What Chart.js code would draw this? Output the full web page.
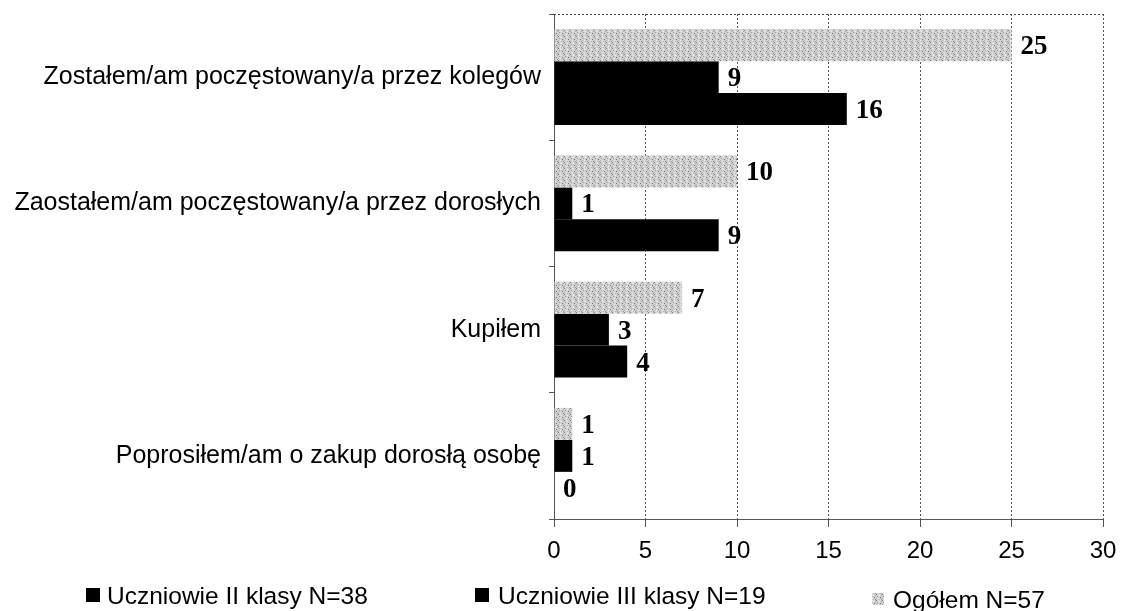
<!DOCTYPE html>
<html><head><meta charset="utf-8">
<script src="https://cdn.jsdelivr.net/npm/chart.js@4.4.1/dist/chart.umd.min.js"></script>
<style>html,body{margin:0;padding:0;background:#fff;}#wrap{width:1121px;height:611px;}</style>
</head><body><div id="wrap"><canvas id="c" width="1121" height="611"></canvas></div>
<script>
const categories = [
  "Zostałem/am poczęstowany/a przez kolegów",
  "Zaostałem/am poczęstowany/a przez dorosłych",
  "Kupiłem",
  "Poprosiłem/am o zakup dorosłą osobę"
];
const seriesNames = ["Ogółem N=57", "Uczniowie III klasy N=19", "Uczniowie II klasy N=38"];
const ogolem = [25, 10, 7, 1];
const klasaIII = [9, 1, 3, 1];
const klasaII = [16, 9, 4, 0];
const xTicks = [0, 5, 10, 15, 20, 25, 30];
const legendOrder = [2, 1, 0];

// speckled light-gray texture
function makePattern() {
  const p = document.createElement('canvas');
  p.width = 6; p.height = 6;
  const g = p.getContext('2d');
  g.fillStyle = '#d2d2d2'; g.fillRect(0, 0, 6, 6);
  const dots = [[0,0,'#7a7a7a'],[3,1,'#f2f2f2'],[1,2,'#9c9c9c'],[4,3,'#6e6e6e'],[2,4,'#ededed'],[5,5,'#949494'],[0,4,'#b2b2b2'],[5,1,'#a8a8a8'],[2,0,'#e8e8e8'],[3,5,'#bcbcbc']];
  dots.forEach(d => { g.fillStyle = d[2]; g.fillRect(d[0], d[1], 1, 1); });
  return g.createPattern(p, 'repeat');
}
const ctx = document.getElementById('c').getContext('2d');
const grayPat = makePattern();
const colors = [grayPat, '#000000', '#000000'];
const values = [ogolem, klasaIII, klasaII];

const frame = {
  id: 'frame',
  beforeDatasetsDraw(chart) {
    const {ctx, chartArea: a} = chart;
    ctx.save();
    ctx.strokeStyle = '#444'; ctx.lineWidth = 1; ctx.setLineDash([2, 2]);
    ctx.beginPath(); ctx.moveTo(a.left, a.top + 0.5); ctx.lineTo(a.right, a.top + 0.5); ctx.stroke();
    ctx.restore();
  }
};
const labelsPlugin = {
  id: 'vals',
  afterDatasetsDraw(chart) {
    const ctx = chart.ctx;
    ctx.save();
    ctx.font = 'bold 27px "Liberation Serif", "Times New Roman", serif';
    ctx.fillStyle = '#000'; ctx.textAlign = 'left'; ctx.textBaseline = 'middle';
    chart.data.datasets.forEach((ds, i) => {
      chart.getDatasetMeta(i).data.forEach((bar, j) => {
        ctx.fillText(String(ds.data[j]), bar.x + 9, bar.y + 2);
      });
    });
    ctx.restore();
  }
};
const legendPlugin = {
  id: 'customLegend',
  afterDraw(chart) {
    const ctx = chart.ctx;
    const boxX = [86, 475, 872];
    const textX = [107, 498, 893];
    const ys = [596, 596, 600];
    ctx.save();
    ctx.font = '24.5px "Liberation Sans", Arial, sans-serif';
    ctx.textBaseline = 'middle'; ctx.fillStyle = '#000';
    legendOrder.forEach((di, k) => {
      const ds = chart.data.datasets[di];
      ctx.fillStyle = ds.backgroundColor;
      const s = di === 0 ? 12 : 14;
      ctx.fillRect(boxX[k], ys[k] - s / 2 - 1, s, s);
      ctx.fillStyle = '#000';
      ctx.fillText(ds.label, textX[k], ys[k] + 1);
    });
    ctx.restore();
  }
};

new Chart(ctx, {
  type: 'bar',
  data: {
    labels: categories,
    datasets: seriesNames.map((n, i) => ({
      label: n, data: values[i], backgroundColor: colors[i],
      borderWidth: 0, barPercentage: 1, categoryPercentage: 0.76
    }))
  },
  options: {
    indexAxis: 'y', responsive: false, animation: false,
    layout: { padding: { top: 14, right: 18, left: 0, bottom: 0 } },
    plugins: { legend: { display: false }, tooltip: { enabled: false } },
    scales: {
      x: {
        min: 0, max: 30,
        afterBuildTicks(s) { s.ticks = xTicks.map(v => ({ value: v })); },
        afterFit(s) { s.height = 92; s.paddingLeft = 0; s.paddingRight = 0; },
        ticks: { color: '#000', font: { size: 24, family: '"Liberation Sans", Arial, sans-serif' }, padding: 10 },
        grid: { color: '#555', lineWidth: 1, tickLength: 8, drawTicks: true },
        border: { color: '#555', dash: [2, 2] }
      },
      y: {
        afterFit(s) { s.width = 554; s.paddingTop = 0; s.paddingBottom = 0; },
        ticks: { color: '#000', font: { size: 25, family: '"Liberation Sans", Arial, sans-serif' }, padding: 8 },
        grid: { drawOnChartArea: false, color: '#555', tickLength: 5, offset: true },
        border: { color: '#555', dash: [2, 2] }
      }
    }
  },
  plugins: [frame, labelsPlugin, legendPlugin]
});
</script></body></html>
